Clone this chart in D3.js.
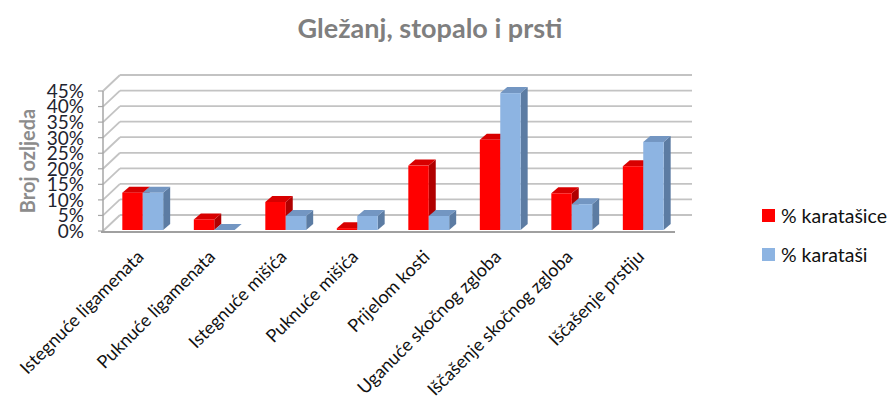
<!DOCTYPE html>
<html>
<head>
<meta charset="utf-8">
<script src="https://cdn.jsdelivr.net/npm/d3@7"></script>
<style>
  body { margin: 0; background: #fff; }
  svg { font-family: Lato, "Open Sans", sans-serif; }
</style>
</head>
<body>
<div id="chart"></div>
<script>
// data
var categories = ["Istegnuće ligamenata", "Puknuće ligamenata", "Istegnuće mišića", "Puknuće mišića",
                  "Prijelom kosti", "Uganuće skočnog zgloba", "Iščašenje skočnog zgloba", "Iščašenje prstiju"];
var seriesNames = ["% karatašice", "% karataši"];
var karatasice = [0.12, 0.034, 0.09, 0.006, 0.207, 0.29, 0.118, 0.205];
var karatasi = [0.12, 0, 0.045, 0.045, 0.045, 0.44, 0.083, 0.283];
var yTicks = [0, 0.05, 0.10, 0.15, 0.20, 0.25, 0.30, 0.35, 0.40, 0.45];

var colors = {
  "% karatašice": { front: "#ff0000", side: "#b00000", top: "#d80000" },
  "% karataši": { front: "#8db4e2", side: "#5c7ca3", top: "#7396c2" }
};

var W = 888, H = 401;
var svg = d3.select("#chart").append("svg").attr("width", W).attr("height", H);

var x0 = d3.scaleBand().domain(categories).range([103, 675]);
var x1 = d3.scaleBand().domain(seriesNames).range([0, x0.bandwidth()]).paddingOuter(0.75);
var y = d3.scaleLinear().domain([0, 0.45]).range([231, 91]);

// wall depth and bar depth offsets
var wd = { x: 17, y: -16 };
var bo = { x: 4, y: -1 };
var bd = { x: 7, y: -6 };

// back wall gridlines + left wall diagonals
var grid = svg.append("g");
yTicks.forEach(function (t) {
  grid.append("line")
    .attr("x1", 103 + wd.x).attr("x2", 675 + wd.x)
    .attr("y1", y(t) + wd.y).attr("y2", y(t) + wd.y)
    .attr("stroke", "#c3c3c3").attr("stroke-width", 1.8);
  grid.append("line")
    .attr("x1", 103).attr("x2", 103 + wd.x)
    .attr("y1", y(t)).attr("y2", y(t) + wd.y)
    .attr("stroke", "#c3c3c3").attr("stroke-width", 1.8);
  grid.append("line")
    .attr("x1", 98).attr("x2", 103)
    .attr("y1", y(t)).attr("y2", y(t))
    .attr("stroke", "#a6a6a6").attr("stroke-width", 1.2);
});
// front axis line and floor front edge
grid.append("line").attr("x1", 103).attr("x2", 103)
  .attr("y1", y(0.45)).attr("y2", y(0) + 1)
  .attr("stroke", "#a6a6a6").attr("stroke-width", 1.5);
grid.append("line").attr("x1", 101).attr("x2", 675)
  .attr("y1", y(0) + 1).attr("y2", y(0) + 1)
  .attr("stroke", "#a0a0a0").attr("stroke-width", 2.2);

// y tick labels
svg.append("g").selectAll("text").data(yTicks).enter().append("text")
  .attr("x", 84).attr("y", function (d) { return y(d); })
  .attr("dy", "0.36em").attr("text-anchor", "end")
  .attr("font-size", 19).attr("fill", "#1f2430")
  .text(function (d) { return Math.round(d * 100) + "%"; });

// bars
var rows = [];
categories.forEach(function (c, i) {
  rows.push({ cat: c, s: seriesNames[0], v: karatasice[i] });
  rows.push({ cat: c, s: seriesNames[1], v: karatasi[i] });
});

var bars = svg.append("g").selectAll("g").data(rows).enter().append("g");
bars.each(function (d) {
  var g = d3.select(this);
  var xl = x0(d.cat) + x1(d.s) + bo.x, xr = xl + x1.bandwidth();
  var yb = y(0) + bo.y, yt = y(d.v) + bo.y;
  var c = colors[d.s];
  // right side face
  g.append("path")
    .attr("d", "M" + xr + "," + yb + "L" + (xr + bd.x) + "," + (yb + bd.y) +
      "L" + (xr + bd.x) + "," + (yt + bd.y) + "L" + xr + "," + yt + "Z")
    .attr("fill", c.side);
  // top face
  g.append("path")
    .attr("d", "M" + xl + "," + yt + "L" + xr + "," + yt +
      "L" + (xr + bd.x) + "," + (yt + bd.y) + "L" + (xl + bd.x) + "," + (yt + bd.y) + "Z")
    .attr("fill", c.top);
  // front face
  g.append("rect")
    .attr("x", xl).attr("y", yt)
    .attr("width", x1.bandwidth()).attr("height", Math.max(0, yb - yt))
    .attr("fill", c.front);
});

// category labels
svg.append("g").selectAll("text").data(categories).enter().append("text")
  .attr("transform", function (d) {
    return "translate(" + (x0(d) + x0.bandwidth() / 2 + 6) + ",258) rotate(-45)";
  })
  .attr("text-anchor", "end").attr("font-size", 18).attr("fill", "#111")
  .text(function (d) { return d; });

// title
svg.append("text").attr("x", 430).attr("y", 38).attr("text-anchor", "middle")
  .attr("font-size", 27).attr("font-weight", "bold").attr("fill", "#7f7f7f")
  .text("Gležanj, stopalo i prsti");

// y axis title
svg.append("text").attr("transform", "translate(35,161) rotate(-90)")
  .attr("text-anchor", "middle").attr("font-size", 20).attr("font-weight", "bold")
  .attr("fill", "#8c8c8c").text("Broj ozljeda");

// legend
var legend = svg.append("g").selectAll("g").data(seriesNames).enter().append("g")
  .attr("transform", function (d, i) { return "translate(762," + (209 + i * 39) + ")"; });
legend.append("rect").attr("width", 13).attr("height", 13)
  .attr("fill", function (d) { return colors[d].front; });
legend.append("text").attr("x", 19).attr("y", 7).attr("dy", "0.36em")
  .attr("font-size", 19.5).attr("fill", "#111").text(function (d) { return d; });
</script>
</body>
</html>
